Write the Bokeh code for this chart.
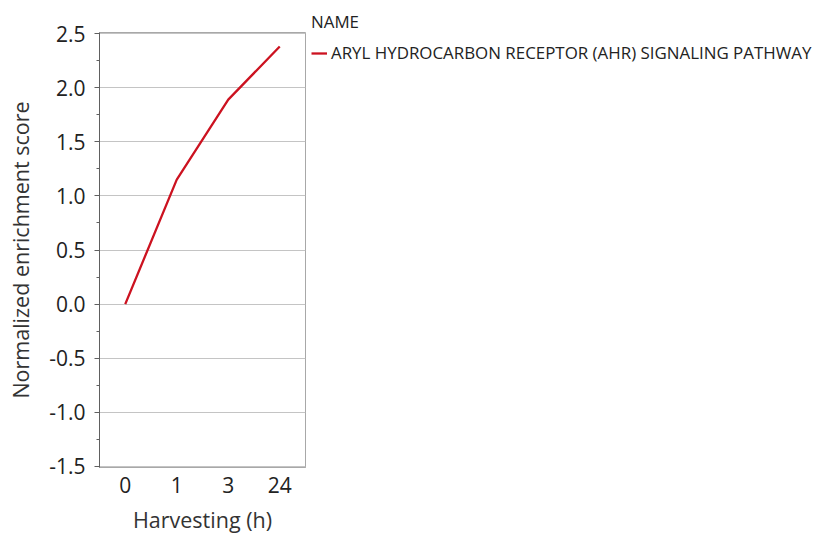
from bokeh.plotting import figure
from bokeh.models import FixedTicker, PrintfTickFormatter, Legend, LegendItem, Range1d, FactorRange
from bokeh.embed import file_html
from bokeh.resources import INLINE

# Harvesting time points and normalized enrichment scores
hours = ["0", "1", "3", "24"]
nes = [0.0, 1.15, 1.89, 2.38]
pathway = "ARYL HYDROCARBON RECEPTOR (AHR) SIGNALING PATHWAY"
y_ticks = [-1.5, -1.0, -0.5, 0.0, 0.5, 1.0, 1.5, 2.0, 2.5]

FONT = "Open Sans"
LINE_COLOR = "#cc1220"

p = figure(
    frame_width=206, frame_height=435,
    x_range=FactorRange(factors=hours, range_padding=0),
    y_range=Range1d(-1.51, 2.51),
    output_backend="svg", toolbar_location=None,
    min_border_left=99, min_border_right=0,
    min_border_top=32, min_border_bottom=68,
)

line = p.line(hours, nes, line_color=LINE_COLOR, line_width=2.3)

p.outline_line_color = "#a8a8a8"
p.xgrid.grid_line_color = None
p.ygrid.grid_line_color = "#c4c4c4"
p.ygrid.ticker = FixedTicker(ticks=y_ticks)

ya = p.yaxis[0]
ya.ticker = FixedTicker(ticks=y_ticks, minor_ticks=[t + 0.25 for t in y_ticks[:-1]])
ya.formatter = PrintfTickFormatter(format="%.1f")
ya.axis_label = "Normalized enrichment score"
ya.axis_line_color = "#606060"
ya.major_tick_line_color = "#606060"
ya.minor_tick_line_color = "#606060"
ya.major_tick_out = 5
ya.major_tick_in = 0
ya.minor_tick_out = 3
ya.minor_tick_in = 0
ya.major_label_standoff = 9

xa = p.xaxis[0]
xa.axis_label = "Harvesting (h)"
xa.axis_line_color = "#a8a8a8"
xa.major_tick_line_color = None
xa.minor_tick_line_color = None
xa.major_label_standoff = 3

for ax in (xa, ya):
    ax.major_label_text_font = FONT
    ax.major_label_text_font_size = "21px"
    ax.major_label_text_color = "#222222"
    ax.axis_label_text_font = FONT
    ax.axis_label_text_font_size = "21.5px"
    ax.axis_label_text_font_style = "normal"
    ax.axis_label_text_color = "#333333"
ya.axis_label_standoff = 11
xa.axis_label_standoff = 9

# Series legend to the right of the plot area, titled with the column name
legend = Legend(
    items=[LegendItem(label=pathway, renderers=[line])],
    title="NAME",
    location=(6, 403),
    border_line_color=None,
    background_fill_alpha=0,
    padding=0, margin=3,
    glyph_width=16, glyph_height=20,
    label_standoff=4,
    title_standoff=8,
    label_text_font=FONT, label_text_font_size="16.9px", label_text_color="#222222",
    title_text_font=FONT, title_text_font_size="16.9px", title_text_font_style="normal",
    title_text_color="#222222",
)
p.add_layout(legend, "right")

open("out.html", "w").write(file_html(p, INLINE))
